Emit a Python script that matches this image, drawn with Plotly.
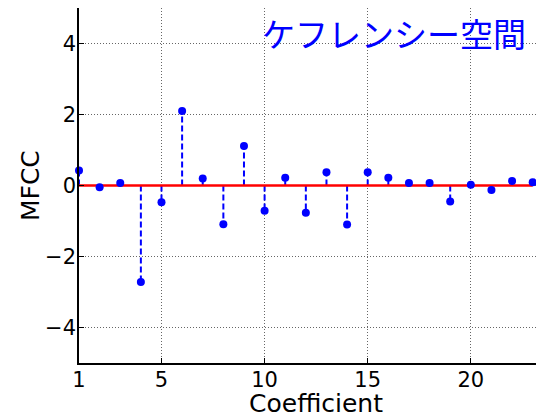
import plotly.graph_objects as go

# MFCC coefficients
coef = list(range(1, 24))
mfcc = [0.42, -0.05, 0.07, -2.72, -0.47, 2.10, 0.20, -1.09, 1.11, -0.71, 0.22, -0.77,
        0.37, -1.10, 0.37, 0.22, 0.07, 0.07, -0.45, 0.02, -0.13, 0.13, 0.09]

x_ticks = [1, 5, 10, 15, 20]
y_ticks = [-4, -2, 0, 2, 4]
title_text = "ケフレンシー空間"

stem_x, stem_y = [], []
for c, v in zip(coef, mfcc):
    stem_x += [c, c, None]
    stem_y += [0, v, None]

fig = go.Figure()
fig.add_trace(go.Scatter(x=stem_x, y=stem_y, mode="lines",
                         line=dict(color="#0000ff", width=2, dash="6px,3px"),
                         hoverinfo="skip", cliponaxis=False))
fig.add_trace(go.Scatter(x=[coef[0], coef[-1]], y=[0, 0], mode="lines",
                         line=dict(color="#ff0000", width=2.5), cliponaxis=False))
fig.add_trace(go.Scatter(x=coef, y=mfcc, mode="markers", cliponaxis=False,
                         marker=dict(color="#0000ff", size=8)))

fig.add_annotation(text=title_text, xref="paper", yref="paper", x=0.968, y=0.930,
                   xanchor="right", yanchor="middle", showarrow=False,
                   font=dict(family="Noto Sans CJK JP", size=33, color="#0000ff"))
# axis titles placed by hand so the plot area keeps its size
fig.add_annotation(text="Coefficient", xref="paper", yref="paper", x=0.51, y=-0.113,
                   xanchor="center", yanchor="middle", showarrow=False,
                   font=dict(family="DejaVu Sans", size=25, color="black"))
fig.add_annotation(text="MFCC", xref="paper", yref="paper", x=-0.103, y=0.499,
                   xanchor="center", yanchor="middle", showarrow=False, textangle=-90,
                   font=dict(family="DejaVu Sans", size=25, color="black"))

axis_common = dict(showline=True, linecolor="black", linewidth=1.5, mirror=True,
                   showgrid=True, gridcolor="#666666", griddash="1px,2px", gridwidth=1,
                   zeroline=False, ticks="inside", ticklen=5, tickcolor="black",
                   automargin=False, ticklabelstandoff=-3,
                   tickfont=dict(family="DejaVu Sans", size=21, color="black"))

fig.update_xaxes(range=[1, 23.5], tickvals=x_ticks, **axis_common)
fig.update_yaxes(range=[-5, 5], tickvals=y_ticks, **axis_common)

# page body adds 8px around the div, so the figure is 8px smaller than the window
fig.update_layout(width=536, height=406, showlegend=False,
                  margin=dict(l=71, r=1, t=0, b=51),
                  plot_bgcolor="white", paper_bgcolor="white")

fig.write_html("out.html")
